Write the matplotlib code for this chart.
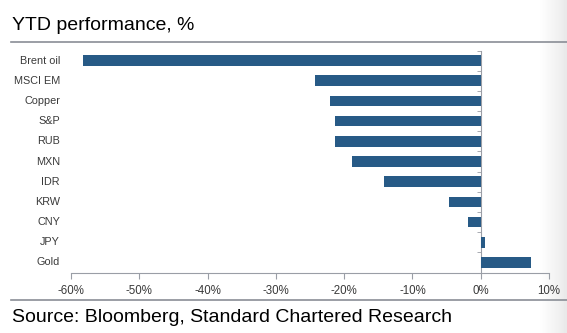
import matplotlib.pyplot as plt
import matplotlib.transforms as mtransforms
import numpy as np

categories = ["Brent oil", "MSCI EM", "Copper", "S&P", "RUB", "MXN",
              "IDR", "KRW", "CNY", "JPY", "Gold"]
ytd_pct = [-58.2, -24.3, -22.0, -21.3, -21.3, -18.8, -14.2, -4.6, -1.9, 0.6, 7.4]
xticks = [-60, -50, -40, -30, -20, -10, 0, 10]

bar_color = "#275a86"
axis_gray = "#9a9ea6"
narrow = ["Liberation Sans Narrow", "Liberation Sans", "DejaVu Sans"]

plt.rcParams["font.family"] = ["Liberation Sans", "DejaVu Sans"]

fig = plt.figure(figsize=(5.67, 3.33), dpi=100)
H = 333.0
W = 567.0

# light shadow on the right edge
grad = fig.add_axes([540 / W, 0, 27 / W, 1])
grad.imshow(np.linspace(0, 1, 50).reshape(1, -1), cmap="Greys", vmin=0, vmax=6,
            aspect="auto", extent=[0, 1, 0, 1])
grad.axis("off")

ax = fig.add_axes([71 / W, 1 - 272.5 / H, (549 - 71) / W, (272.5 - 50.5) / H])
ax.set_facecolor("none")

y = np.arange(len(categories))
ax.barh(y, ytd_pct, height=0.53, color=bar_color, zorder=3)

ax.set_xlim(-60, 10)
ax.set_ylim(len(categories) - 0.5, -0.5)

ax.set_xticks(xticks)
ax.set_xticklabels([f"{t}%" for t in xticks], family=narrow, fontsize=8.3, color="#3a3a3a")
ax.tick_params(axis="x", length=4, color=axis_gray, pad=5)

ax.spines["left"].set_position(("data", 0))
ax.spines["left"].set_color(axis_gray)
ax.spines["bottom"].set_color(axis_gray)
ax.spines["top"].set_visible(False)
ax.spines["right"].set_visible(False)

ax.set_yticks(y)
ax.set_yticklabels([])
ax.tick_params(axis="y", which="major", length=0)
ax.set_yticks(np.arange(len(categories) + 1) - 0.5, minor=True)
ax.tick_params(axis="y", which="minor", length=3, color=axis_gray)

trans = mtransforms.blended_transform_factory(fig.transFigure, ax.transData)
for yi, name in zip(y, categories):
    ax.text(60 / W, yi, name, transform=trans, ha="right", va="center",
            family=narrow, fontsize=7.8, color="#3a3a3a")

fig.text(12 / W, 1 - 25 / H, "YTD performance, %", fontsize=14, va="center")
fig.text(12 / W, 1 - 317 / H, "Source: Bloomberg, Standard Chartered Research",
         fontsize=14, va="center")

fig.add_artist(plt.Line2D([11 / W, 1], [1 - 42 / H] * 2, color="#8a8e96", lw=1.2))
fig.add_artist(plt.Line2D([11 / W, 1], [1 - 300 / H] * 2, color="#8a8e96", lw=1.2))

fig.savefig("out.png", dpi=100)
